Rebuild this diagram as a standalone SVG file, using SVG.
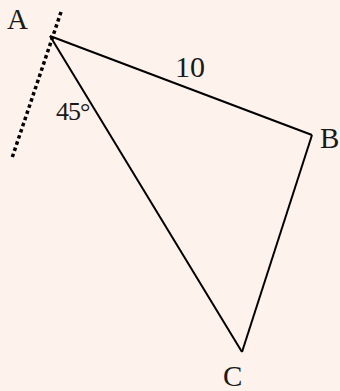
<svg xmlns="http://www.w3.org/2000/svg" width="340" height="391" viewBox="0 0 340 391">
<style>
.lbl{font-family:"Liberation Serif","Times New Roman",serif;fill:#1a1a1a}
.edge{stroke:#000;stroke-width:2;fill:none}
</style>
<rect width="340" height="391" fill="#fdf3ec"/>
<g id="connectors">
<line class="edge" x1="50" y1="36" x2="312" y2="135"/>
<line class="edge" x1="312" y1="135" x2="242" y2="352"/>
<line class="edge" x1="242" y1="352" x2="50" y2="36"/>
<line x1="61" y1="12" x2="12" y2="158" stroke="#000" stroke-width="3.5" stroke-dasharray="3.5,3"/>
</g>
<g id="A"><text class="lbl" x="7" y="29" font-size="29">A</text></g>
<g id="B"><text class="lbl" x="320" y="148" font-size="29">B</text></g>
<g id="C"><text class="lbl" x="223" y="386" font-size="29">C</text></g>
<g id="len"><text class="lbl" x="175" y="77" font-size="30">10</text></g>
<g id="angle"><text class="lbl" x="56" y="120" font-size="26" letter-spacing="-1">45°</text></g>
</svg>
